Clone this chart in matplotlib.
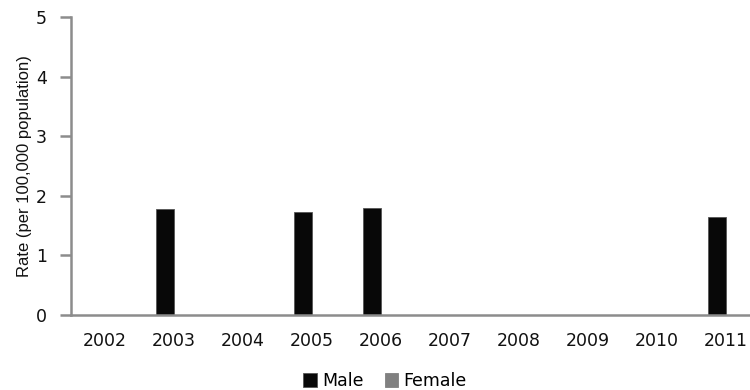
import matplotlib
matplotlib.use("Agg")
import matplotlib.pyplot as plt
import numpy as np

years = ["2002", "2003", "2004", "2005", "2006", "2007", "2008", "2009", "2010", "2011"]
male = [0, 1.78, 0, 1.73, 1.79, 0, 0, 0, 0, 1.65]
female = [0, 0, 0, 0, 0, 0, 0, 0, 0, 0]

fig = plt.figure(figsize=(7.5, 3.9), dpi=100)
ax = fig.add_axes([70.5 / 750, 1 - 315 / 390, 690 / 750, (315 - 17) / 390])

x = np.arange(len(years))
w = 0.26
ax.bar(x - w / 2, male, width=w, color="#080808", edgecolor="#555555", linewidth=0.6, label="Male")
ax.bar(x + w / 2, female, width=w, color="#808080", edgecolor="#808080", linewidth=0.6, label="Female")

ax.set_xlim(-0.5, len(years) - 0.5)
ax.set_ylim(0, 5)
ax.set_yticks([0, 1, 2, 3, 4, 5])
ax.set_xticks(x)
ax.set_xticklabels(years)

for s in ["top", "right"]:
    ax.spines[s].set_visible(False)
for s in ["left", "bottom"]:
    ax.spines[s].set_color("#8c8c8c")
    ax.spines[s].set_linewidth(1.8)

ax.tick_params(axis="y", direction="out", length=8, width=1.8, color="#8c8c8c",
               pad=9, labelsize=12.5, labelcolor="#111111")
ax.tick_params(axis="x", length=0, pad=12, labelsize=12.5, labelcolor="#111111")
for lab in ax.get_xticklabels() + ax.get_yticklabels():
    lab.set_family("DejaVu Sans")

ax.set_ylabel("Rate (per 100,000 population)", family="Liberation Sans", fontsize=12,
              color="#111111", labelpad=3)

leg = fig.legend(loc="center", bbox_to_anchor=(385 / 750, 1 - 381 / 390), ncol=2, frameon=False,
                 prop={"family": "DejaVu Sans", "size": 12.5}, handlelength=0.8, handleheight=0.8,
                 handletextpad=0.3, columnspacing=1.2)

fig.savefig("out.png", dpi=100)
